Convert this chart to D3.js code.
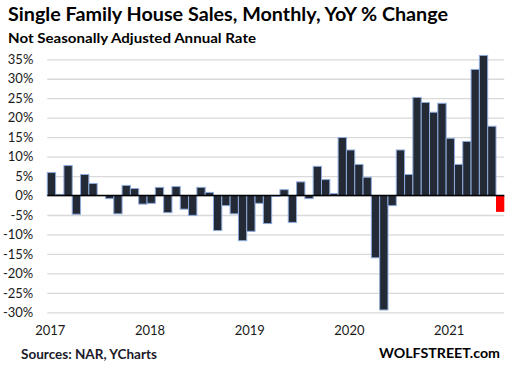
<!DOCTYPE html>
<html><head><meta charset="utf-8">
<script src="https://cdn.jsdelivr.net/npm/d3@7"></script>
<style>body{margin:0;background:#fff}svg{display:block}text{font-family:Lato,"Open Sans",sans-serif}</style>
</head><body>
<script>
const months = [];
for (let y = 2017; y <= 2021; y++) for (let m = 1; m <= 12; m++) { if (y === 2021 && m > 7) break; months.push(y + "-" + String(m).padStart(2, "0")); }
const values = [5.9,0.3,7.7,-4.8,5.4,3.1,0,-0.8,-4.7,2.6,1.8,-2.2,
  -2.0,2.1,-4.4,2.3,-3.5,-5.1,2.1,0.8,-9.0,-2.6,-4.7,-11.6,
  -9.2,-2.0,-7.2,-0.2,1.5,-6.9,3.5,-0.8,7.5,4.1,0.5,14.9,
  11.7,8.0,4.7,-16.0,-29.4,-2.6,11.7,5.4,25.2,23.9,21.4,23.7,
  14.7,8.0,13.9,32.4,36.0,17.8,-4.2];
const yTicks = [-30,-25,-20,-15,-10,-5,0,5,10,15,20,25,30,35];
const yearLabels = ["2017","2018","2019","2020","2021"];

const W = 512, H = 369;
const svg = d3.select("body").append("svg").attr("width", W).attr("height", H);
const x = d3.scaleBand().domain(months).range([47.3, 504.3]).padding(0);
const y = d3.scaleLinear().domain([-30, 35]).range([312.3, 59.3]);

// grid + y labels
const ya = svg.append("g").attr("transform", "translate(47.3,0)")
  .call(d3.axisLeft(y).tickValues(yTicks).tickSize(-(504.3-47.3)).tickPadding(14).tickFormat(d => d + "%"));
ya.select(".domain").remove();
ya.selectAll(".tick line").attr("stroke", "#d9d9d9").attr("stroke-width", 1.3);
ya.selectAll(".tick text").attr("fill", "#1a1a1a").style("font-size", "13px").style("font-family", "Lato, sans-serif");

// bars
svg.append("g").selectAll("rect").data(values).join("rect")
  .attr("x", (d, i) => x(months[i]))
  .attr("width", x.bandwidth())
  .attr("y", d => y(Math.max(0, d)))
  .attr("height", d => Math.abs(y(d) - y(0)))
  .attr("fill", (d, i) => i === values.length - 1 ? "#ff0000" : "#232a36")
  .attr("stroke", (d, i) => i === values.length - 1 ? "none" : "#8eaadb")
  .attr("stroke-width", 1);

// zero line
svg.append("line").attr("x1", 47.3).attr("x2", 504.3).attr("y1", y(0)).attr("y2", y(0))
  .attr("stroke", "#000").attr("stroke-width", 1.5);

// x labels
svg.append("g").selectAll("text").data(yearLabels).join("text")
  .attr("x", d => x(d + "-01") + 3)
  .attr("y", 335)
  .attr("text-anchor", "middle")
  .attr("fill", "#1a1a1a")
  .style("font-size", "13px")
  .text(d => d);

// titles
svg.append("text").attr("x", 8).attr("y", 21).attr("textLength", 440).attr("lengthAdjust", "spacingAndGlyphs")
  .style("font-size", "19px").style("font-weight", "bold").attr("fill", "#000")
  .text("Single Family House Sales, Monthly,  YoY % Change");
svg.append("text").attr("x", 8).attr("y", 43).attr("textLength", 248).attr("lengthAdjust", "spacingAndGlyphs")
  .style("font-size", "14px").style("font-weight", "bold").attr("fill", "#000")
  .text("Not Seasonally Adjusted Annual Rate");
svg.append("text").attr("x", 21).attr("y", 359).attr("textLength", 136).attr("lengthAdjust", "spacingAndGlyphs")
  .style("font-size", "13.5px").style("font-weight", "bold").attr("fill", "#1a1a2a")
  .text("Sources: NAR, YCharts");
svg.append("text").attr("x", 379).attr("y", 358).attr("textLength", 121).attr("lengthAdjust", "spacingAndGlyphs")
  .style("font-size", "14px").style("font-weight", "bold").attr("fill", "#000")
  .text("WOLFSTREET.com");
</script>
</body></html>
